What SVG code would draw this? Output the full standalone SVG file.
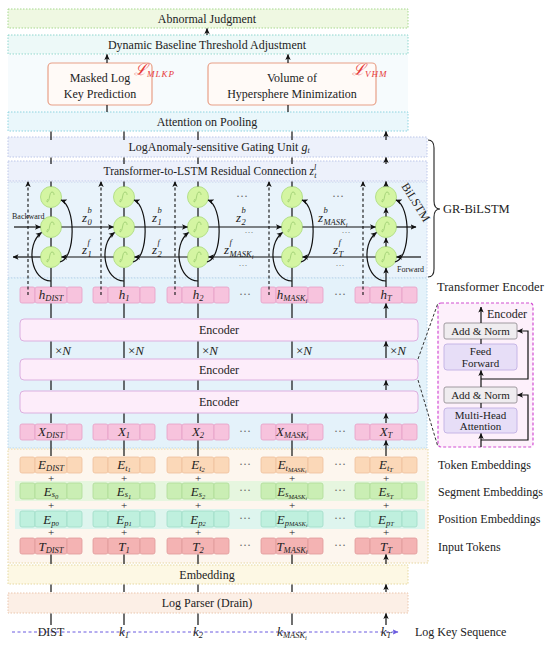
<svg xmlns="http://www.w3.org/2000/svg" xmlns:xlink="http://www.w3.org/1999/xlink" width="550" height="646" viewBox="0 0 550 646">
<style>
text{font-family:"Liberation Serif","DejaVu Serif",serif;fill:#222}
.t13{font-size:12px}
.t12{font-size:12px}
.t11{font-size:11px}
.c{text-anchor:middle}
.m{font-style:italic;font-size:13px;text-anchor:middle}
.s{font-size:8.5px}
.ss{font-size:6.5px}
.z{font-style:italic;font-size:13px}
.dots{font-size:12px;fill:#666;text-anchor:middle}
.dots2{font-size:9px;fill:#666;text-anchor:middle}
.ar{stroke:#111;stroke-width:1.2;fill:none;marker-end:url(#ah)}
.dash{stroke:#111;stroke-width:1.1;fill:none;stroke-dasharray:3 2.5;marker-end:url(#ah)}
.ln{stroke:#111;stroke-width:1.2;fill:none}
.pink{fill:#f7c3dd;stroke:#e6a0c6;stroke-width:0.8}
.orng{fill:#fbd8b8;stroke:#efc09c;stroke-width:0.8}
.grn{fill:#caeeb4;stroke:#afdc98;stroke-width:0.8}
.teal{fill:#bff0de;stroke:#a0dcc6;stroke-width:0.8}
.red{fill:#f4b3b3;stroke:#e09a9a;stroke-width:0.8}
.enc{fill:#fdedfa;stroke:#dcb0e0;stroke-width:1}
.dot{stroke-dasharray:1.5 1.5;stroke-width:1}
.loss{font-style:italic;fill:#e63a3a}
.plus{font-size:11px;text-anchor:middle}
</style>
<defs>
<marker id="ah" viewBox="0 0 6 6" refX="5.5" refY="3" markerWidth="6" markerHeight="6" orient="auto" markerUnits="userSpaceOnUse"><path d="M0,0.3 L6,3 L0,5.7 L1.4,3 z" fill="#111"/></marker>
<marker id="ahp" viewBox="0 0 6 6" refX="5.5" refY="3" markerWidth="6" markerHeight="6" orient="auto" markerUnits="userSpaceOnUse"><path d="M0,0.3 L6,3 L0,5.7 L1.4,3 z" fill="#6a5ae0"/></marker>
<g id="blk"><rect x="-31" y="0" width="15" height="16" rx="2"/><rect x="-16" y="0" width="32" height="16" rx="2"/><rect x="16" y="0" width="15" height="16" rx="2"/></g>
<g id="cell"><circle r="10.5" fill="#d4f5a2" stroke="#b4e08a" stroke-width="1"/><path d="M-4,5 C-1,5 -2,-5 1,-5 M1,-5 C3,-5 3,-3 3,-2 M-4,5 C-4,4 -4,3 -3,2" stroke="#9acb70" stroke-width="0.8" fill="none"/></g>
</defs>

<!-- backgrounds / panels -->
<g id="panels">
<rect x="8" y="55" width="400" height="57" fill="#f6fbfd"/>
<rect x="8" y="182" width="419" height="96" fill="#e9f3fb" stroke="#c6d2ec" class="dot"/>
<rect x="8" y="278" width="419" height="170" fill="#e4f2fa" stroke="#b8d6ea" class="dot"/>
<rect x="8" y="449" width="420" height="114" fill="#fdf6ee" stroke="#e6d6a0" class="dot"/>
<rect x="15" y="481" width="410" height="20" fill="#e6f6df"/>
<rect x="15" y="509" width="410" height="20" fill="#def5ee"/>
</g>

<g id="abnormal"><rect x="8" y="9" width="400" height="19" fill="#eff8e2" stroke="#a6d88e" class="dot"/><text x="207" y="23" class="t13 c">Abnormal Judgment</text></g>
<g id="dynamic"><rect x="8" y="35" width="400" height="19" fill="#edf9f8" stroke="#8ed6ce" class="dot"/><text x="207" y="49" class="t13 c">Dynamic Baseline Threshold Adjustment</text></g>
<g id="mlkp"><rect x="48" y="63" width="104" height="42" rx="4" fill="#fffaf7" stroke="#e8a088" stroke-width="1.2"/><text x="100" y="82" class="t13 c">Masked Log</text><text x="100" y="98" class="t13 c">Key Prediction</text>
<text x="134" y="75" class="loss" font-size="16">ℒ<tspan font-size="9" dy="2" letter-spacing="1">MLKP</tspan></text></g>
<g id="vhm"><rect x="208" y="63" width="168" height="42" rx="4" fill="#fffaf7" stroke="#e8a088" stroke-width="1.2"/><text x="292" y="82" class="t13 c">Volume of</text><text x="292" y="98" class="t13 c">Hypersphere Minimization</text>
<text x="352" y="75" class="loss" font-size="16">ℒ<tspan font-size="9" dy="2" letter-spacing="1">VHM</tspan></text></g>
<g id="attention"><rect x="8" y="112" width="400" height="19" fill="#eaf7fb" stroke="#8ed4e0" class="dot"/><text x="207" y="126" class="t13 c">Attention on Pooling</text></g>
<g id="gating"><rect x="8" y="137" width="419" height="20" fill="#edf1fb" stroke="#bcc6e8" class="dot"/><text x="219" y="151" class="t13 c">LogAnomaly-sensitive Gating Unit <tspan font-style="italic">g</tspan><tspan font-style="italic" font-size="8" dy="2">t</tspan></text></g>
<g id="residual"><rect x="8" y="161" width="419" height="20" fill="#edf1fb" stroke="#bcc6e8" class="dot"/><text x="210" y="175" class="c" font-size="11.5">Transformer-to-LSTM Residual Connection <tspan font-style="italic">z</tspan><tspan font-style="italic" font-size="8" dy="-5">l</tspan><tspan font-style="italic" font-size="8" dx="-2" dy="8">t</tspan></text></g>

<!-- BiLSTM cells -->
<g id="bilstm">
<use href="#cell" x="51" y="197"/><use href="#cell" x="51" y="227"/><use href="#cell" x="51" y="257"/>
<use href="#cell" x="124" y="197"/><use href="#cell" x="124" y="227"/><use href="#cell" x="124" y="257"/>
<use href="#cell" x="198" y="197"/><use href="#cell" x="198" y="227"/><use href="#cell" x="198" y="257"/>
<use href="#cell" x="292" y="197"/><use href="#cell" x="292" y="227"/><use href="#cell" x="292" y="257"/>
<use href="#cell" x="386" y="197"/><use href="#cell" x="386" y="227"/><use href="#cell" x="386" y="257"/>
<text x="12" y="219" font-size="8">Backward</text>
<text x="397" y="272" font-size="8">Forward</text>
<text x="0" y="0" font-size="12" transform="translate(401,186) rotate(58)">BiLSTM</text>
<text x="82" y="222" class="z">z<tspan class="s" dx="0.5" dy="-9">b</tspan><tspan class="s" dx="-4.3" dy="12">0</tspan></text>
<text x="152" y="222" class="z">z<tspan class="s" dx="0.5" dy="-9">b</tspan><tspan class="s" dx="-4.3" dy="12">1</tspan></text>
<text x="236" y="222" class="z">z<tspan class="s" dx="0.5" dy="-9">b</tspan><tspan class="s" dx="-4.3" dy="12">2</tspan></text>
<text x="318" y="222" class="z">z<tspan class="s" dx="0.5" dy="-9">b</tspan><tspan class="s" dx="-4.3" dy="12">MASK</tspan><tspan class="ss" dy="2">i</tspan></text>
<text x="82" y="254" class="z">z<tspan class="s" dx="0.5" dy="-9">f</tspan><tspan class="s" dx="-2.4" dy="12">1</tspan></text>
<text x="152" y="254" class="z">z<tspan class="s" dx="0.5" dy="-9">f</tspan><tspan class="s" dx="-2.4" dy="12">2</tspan></text>
<text x="224" y="254" class="z">z<tspan class="s" dx="0.5" dy="-9">f</tspan><tspan class="s" dx="-2.4" dy="12">MASK</tspan><tspan class="ss" dy="2">i</tspan></text>
<text x="333" y="254" class="z">z<tspan class="s" dx="0.5" dy="-9">f</tspan><tspan class="s" dx="-2.4" dy="12">T</tspan></text>
<text x="242" y="200" class="dots">···</text><text x="338" y="200" class="dots">···</text>
<text x="249" y="235" class="dots2">···</text><text x="346" y="235" class="dots2">···</text>
<text x="243" y="268" class="dots2">···</text><text x="340" y="268" class="dots2">···</text>
</g>

<!-- h row -->
<g id="hrow">
<use href="#blk" x="51" y="287" class="pink"/><use href="#blk" x="124" y="287" class="pink"/><use href="#blk" x="198" y="287" class="pink"/><use href="#blk" x="292" y="287" class="pink"/><use href="#blk" x="386" y="287" class="pink"/>
<text x="51" y="299" class="m">h<tspan class="s" dy="2">DIST</tspan></text>
<text x="124" y="299" class="m">h<tspan class="s" dy="2">1</tspan></text>
<text x="198" y="299" class="m">h<tspan class="s" dy="2">2</tspan></text>
<text x="292" y="299" class="m">h<tspan class="s" dy="2">MASK</tspan><tspan class="ss" dy="1.5">i</tspan></text>
<text x="386" y="299" class="m">h<tspan class="s" dy="2">T</tspan></text>
<text x="245" y="298" class="dots">···</text><text x="340" y="298" class="dots">···</text>
</g>

<g id="encoder1"><rect x="20" y="319" width="398" height="22" rx="4" class="enc"/><text x="219" y="334" class="t13 c">Encoder</text></g>
<g id="encoder2"><rect x="20" y="359" width="398" height="21" rx="4" class="enc"/><text x="219" y="374" class="t13 c">Encoder</text></g>
<g id="encoder3"><rect x="20" y="391" width="398" height="22" rx="4" class="enc"/><text x="219" y="406" class="t13 c">Encoder</text></g>
<g id="xn" font-size="13">
<text x="55" y="355">×<tspan font-style="italic">N</tspan></text>
<text x="128" y="355">×<tspan font-style="italic">N</tspan></text>
<text x="202" y="355">×<tspan font-style="italic">N</tspan></text>
<text x="296" y="355">×<tspan font-style="italic">N</tspan></text>
<text x="390" y="355">×<tspan font-style="italic">N</tspan></text>
</g>

<!-- X row -->
<g id="xrow">
<use href="#blk" x="51" y="424" class="pink"/><use href="#blk" x="124" y="424" class="pink"/><use href="#blk" x="198" y="424" class="pink"/><use href="#blk" x="292" y="424" class="pink"/><use href="#blk" x="386" y="424" class="pink"/>
<text x="51" y="436" class="m">X<tspan class="s" dy="2">DIST</tspan></text>
<text x="124" y="436" class="m">X<tspan class="s" dy="2">1</tspan></text>
<text x="198" y="436" class="m">X<tspan class="s" dy="2">2</tspan></text>
<text x="292" y="436" class="m">X<tspan class="s" dy="2">MASK</tspan><tspan class="ss" dy="1.5">i</tspan></text>
<text x="386" y="436" class="m">X<tspan class="s" dy="2">T</tspan></text>
<text x="245" y="435" class="dots">···</text><text x="340" y="435" class="dots">···</text>
</g>

<!-- Encoder detail -->
<g id="encoder-detail">
<rect x="438" y="303" width="95" height="144" rx="3" fill="#fdf0fb" stroke="#d24ed2" stroke-width="1.2" stroke-dasharray="3 2"/>
<text x="487" y="318" class="t13">Encoder</text>
<rect x="444" y="323" width="73" height="16" rx="2" fill="#efecef" stroke="#a09aa0"/>
<text x="480.5" y="335" class="t11 c">Add &amp; Norm</text>
<rect x="444" y="344" width="73" height="26" rx="3" fill="#e7def7" stroke="#c6b6e6"/>
<text x="480.5" y="355" class="t11 c">Feed</text><text x="480.5" y="367" class="t11 c">Forward</text>
<rect x="444" y="387" width="73" height="16" rx="2" fill="#efecef" stroke="#a09aa0"/>
<text x="480.5" y="399" class="t11 c">Add &amp; Norm</text>
<rect x="444" y="408" width="73" height="25" rx="3" fill="#e7def7" stroke="#c6b6e6"/>
<text x="480.5" y="419" class="t11 c">Multi-Head</text><text x="480.5" y="430" class="t11 c">Attention</text>
</g>

<!-- Embedding rows -->
<g id="etrow">
<use href="#blk" x="51" y="457" class="orng"/><use href="#blk" x="124" y="457" class="orng"/><use href="#blk" x="198" y="457" class="orng"/><use href="#blk" x="292" y="457" class="orng"/><use href="#blk" x="386" y="457" class="orng"/>
<text x="51" y="469" class="m">E<tspan class="s" dy="2">DIST</tspan></text>
<text x="124" y="469" class="m">E<tspan class="s" dy="1.5">t</tspan><tspan class="ss" dy="1.5">1</tspan></text>
<text x="198" y="469" class="m">E<tspan class="s" dy="1.5">t</tspan><tspan class="ss" dy="1.5">2</tspan></text>
<text x="292" y="469" class="m">E<tspan class="s" dy="1.5">t</tspan><tspan class="ss" dy="1.5">MASK</tspan><tspan font-size="5" dy="1">i</tspan></text>
<text x="386" y="469" class="m">E<tspan class="s" dy="1.5">t</tspan><tspan class="ss" dy="1.5">T</tspan></text>
<text x="245" y="468" class="dots">···</text><text x="340" y="468" class="dots">···</text>
</g>
<g id="esrow">
<use href="#blk" x="51" y="483" class="grn"/><use href="#blk" x="124" y="483" class="grn"/><use href="#blk" x="198" y="483" class="grn"/><use href="#blk" x="292" y="483" class="grn"/><use href="#blk" x="386" y="483" class="grn"/>
<text x="51" y="495.5" class="m">E<tspan class="s" dy="1.5">s</tspan><tspan class="ss" dy="1.5">0</tspan></text>
<text x="124" y="495.5" class="m">E<tspan class="s" dy="1.5">s</tspan><tspan class="ss" dy="1.5">1</tspan></text>
<text x="198" y="495.5" class="m">E<tspan class="s" dy="1.5">s</tspan><tspan class="ss" dy="1.5">2</tspan></text>
<text x="292" y="495.5" class="m">E<tspan class="s" dy="1.5">s</tspan><tspan class="ss" dy="1.5">MASK</tspan><tspan font-size="5" dy="1">i</tspan></text>
<text x="386" y="495.5" class="m">E<tspan class="s" dy="1.5">s</tspan><tspan class="ss" dy="1.5">T</tspan></text>
<text x="245" y="494" class="dots">···</text><text x="340" y="494" class="dots">···</text>
</g>
<g id="eprow">
<use href="#blk" x="51" y="511" class="teal"/><use href="#blk" x="124" y="511" class="teal"/><use href="#blk" x="198" y="511" class="teal"/><use href="#blk" x="292" y="511" class="teal"/><use href="#blk" x="386" y="511" class="teal"/>
<text x="51" y="523.5" class="m">E<tspan class="s" dy="2">p</tspan><tspan class="ss" dy="0">0</tspan></text>
<text x="124" y="523.5" class="m">E<tspan class="s" dy="2">p</tspan><tspan class="ss" dy="0">1</tspan></text>
<text x="198" y="523.5" class="m">E<tspan class="s" dy="2">p</tspan><tspan class="ss" dy="0">2</tspan></text>
<text x="292" y="523.5" class="m">E<tspan class="s" dy="2">p</tspan><tspan class="ss" dy="0">MASK</tspan><tspan font-size="5" dy="1">i</tspan></text>
<text x="386" y="523.5" class="m">E<tspan class="s" dy="2">p</tspan><tspan class="ss" dy="0">T</tspan></text>
<text x="245" y="522" class="dots">···</text><text x="340" y="522" class="dots">···</text>
</g>
<g id="trow">
<use href="#blk" x="51" y="538" class="red"/><use href="#blk" x="124" y="538" class="red"/><use href="#blk" x="198" y="538" class="red"/><use href="#blk" x="292" y="538" class="red"/><use href="#blk" x="386" y="538" class="red"/>
<text x="51" y="550.5" class="m">T<tspan class="s" dy="2">DIST</tspan></text>
<text x="124" y="550.5" class="m">T<tspan class="s" dy="2">1</tspan></text>
<text x="198" y="550.5" class="m">T<tspan class="s" dy="2">2</tspan></text>
<text x="292" y="550.5" class="m">T<tspan class="s" dy="2">MASK</tspan><tspan class="ss" dy="1.5">i</tspan></text>
<text x="386" y="550.5" class="m">T<tspan class="s" dy="2">T</tspan></text>
<text x="245" y="549" class="dots">···</text><text x="340" y="549" class="dots">···</text>
</g>
<g id="plus">
<text x="51" y="482" class="plus">+</text><text x="124" y="482" class="plus">+</text><text x="198" y="482" class="plus">+</text><text x="292" y="482" class="plus">+</text><text x="386" y="482" class="plus">+</text>
<text x="51" y="509" class="plus">+</text><text x="124" y="509" class="plus">+</text><text x="198" y="509" class="plus">+</text><text x="292" y="509" class="plus">+</text><text x="386" y="509" class="plus">+</text>
<text x="51" y="536" class="plus">+</text><text x="124" y="536" class="plus">+</text><text x="198" y="536" class="plus">+</text><text x="292" y="536" class="plus">+</text><text x="386" y="536" class="plus">+</text>
</g>

<g id="embedding"><rect x="8" y="565" width="400" height="19" fill="#fdf8e4" stroke="#e6d8a0" class="dot"/><text x="207" y="579" class="t13 c">Embedding</text></g>
<g id="parser"><rect x="8" y="593" width="400" height="20" fill="#fcefe6" stroke="#eac6ae" class="dot"/><text x="207" y="607" class="t13 c">Log Parser (Drain)</text></g>

<g id="logkeys">
<line x1="12" y1="632" x2="398" y2="632" stroke="#6a5ae0" stroke-width="1" stroke-dasharray="3 2.5" marker-end="url(#ahp)"/>
<text x="51" y="636" class="t12 c">DIST</text>
<text x="124" y="636" class="m">k<tspan class="s" dy="2">1</tspan></text>
<text x="198" y="636" class="m">k<tspan class="s" dy="2">2</tspan></text>
<text x="292" y="636" class="m">k<tspan class="s" dy="2">MASK</tspan><tspan class="ss" dy="1.5">i</tspan></text>
<text x="386" y="636" class="m">k<tspan class="s" dy="2">T</tspan></text>
</g>

<!-- right labels -->
<g id="labels">
<path d="M428,140 Q434,140 434,148 L434,201 Q434,209 440,209 Q434,209 434,217 L434,269 Q434,277 428,277" fill="none" stroke="#222" stroke-width="1.1"/>
<text x="443" y="213" font-size="12.5">GR-BiLSTM</text>
<text x="437" y="291" font-size="12.5">Transformer Encoder</text>
<text x="438" y="469" class="t12">Token Embeddings</text>
<text x="438" y="496" class="t12">Segment Embeddings</text>
<text x="438" y="523" class="t12">Position Embeddings</text>
<text x="438" y="551" class="t12">Input Tokens</text>
<text x="415" y="636" class="t12">Log Key Sequence</text>
</g>

<!-- connectors -->
<g id="connectors">
<line x1="207" y1="35" x2="207" y2="28.5" class="ar"/>
<line x1="107" y1="63" x2="107" y2="54.5" class="ar"/>
<line x1="288" y1="63" x2="288" y2="54.5" class="ar"/>
<line x1="107" y1="105" x2="107" y2="112" class="ln"/>
<line x1="288" y1="105" x2="288" y2="112" class="ln"/>
<path class="ar" d="M51,140V131.5M124,140V131.5M198,140V131.5M292,140V131.5M386,140V131.5"/>
<path class="ar" d="M51,164V157.5M124,164V157.5M198,164V157.5M292,164V157.5M386,164V157.5"/>
<path class="ar" d="M51,186.5V181.5M124,186.5V181.5M198,186.5V181.5M292,186.5V181.5M386,186.5V181.5"/>
<path class="ar" d="M51,216.5V208M124,216.5V208M198,216.5V208M292,216.5V208M386,216.5V208"/>
<path class="ar" d="M51,246.5V238M124,246.5V238M198,246.5V238M292,246.5V238M386,246.5V238"/>
<path class="ar" d="M51,287V268M124,287V268M198,287V268M292,287V268M386,287V268"/>
<path class="dash" d="M28,295V181.5"/><path class="dash" d="M101,295V181.5"/><path class="dash" d="M175,295V181.5"/><path class="dash" d="M269,295V181.5"/><path class="dash" d="M363,295V181.5"/>
<path class="ar" d="M14,227H40.5"/><path class="ar" d="M61.5,227H113.5"/><path class="ar" d="M134.5,227H187.5"/><path class="ar" d="M208.5,227H281.5"/><path class="ar" d="M302.5,227H375.5"/><path class="ar" d="M396.5,227H416"/>
<path class="ar" d="M421,257H396.5"/><path class="ar" d="M375.5,257H302.5"/><path class="ar" d="M281.5,257H208.5"/><path class="ar" d="M187.5,257H134.5"/><path class="ar" d="M113.5,257H61.5"/><path class="ar" d="M40.5,257H13"/>
<path class="ar" d="M51,281C31,281 25,245 41.5,232.5"/><path class="ar" d="M124,281C104,281 98,245 114.5,232.5"/><path class="ar" d="M198,281C178,281 172,245 188.5,232.5"/><path class="ar" d="M292,281C272,281 266,245 282.5,232.5"/><path class="ar" d="M386,281C366,281 360,245 376.5,232.5"/>
<path class="ar" d="M60,262C76,258 76,206 61,200"/><path class="ar" d="M133,262C149,258 149,206 134,200"/><path class="ar" d="M207,262C223,258 223,206 208,200"/><path class="ar" d="M301,262C317,258 317,206 302,200"/><path class="ar" d="M395,262C411,258 411,206 396,200"/>
<path class="ar" d="M51,318V303.5M124,318V303.5M198,318V303.5M292,318V303.5M386,318V303.5"/>
<path class="ar" d="M51,358V341.5M124,358V341.5M198,358V341.5M292,358V341.5M386,358V341.5"/>
<path class="ar" d="M51,390V380.5M124,390V380.5M198,390V380.5M292,390V380.5M386,390V380.5"/>
<path class="ar" d="M51,423V413.5M124,423V413.5M198,423V413.5M292,423V413.5M386,423V413.5"/>
<path class="ar" d="M51,456V440.5M124,456V440.5M198,456V440.5M292,456V440.5M386,456V440.5"/>
<path class="ar" d="M51,564V554.5M124,564V554.5M198,564V554.5M292,564V554.5M386,564V554.5"/>
<path class="ar" d="M51,592V584.5M124,592V584.5M198,592V584.5M292,592V584.5M386,592V584.5"/>
<path class="ar" d="M51,625V613.5M124,625V613.5M198,625V613.5M292,625V613.5M386,625V613.5"/>
<path d="M418,359L438,303M418,380L438,447" stroke="#333" stroke-width="1" stroke-dasharray="3 2" fill="none"/>
<path class="ar" d="M481,323V307"/>
<line x1="481" y1="344" x2="481" y2="339" class="ln"/>
<path class="ar" d="M481,387V370.5"/>
<line x1="481" y1="408" x2="481" y2="403" class="ln"/>
<path class="ar" d="M481,447V433.5"/>
<path class="ar" d="M481,379H528V331H517.5"/>
<path class="ar" d="M481,440H528V395H517.5"/>
</g>
</svg>
